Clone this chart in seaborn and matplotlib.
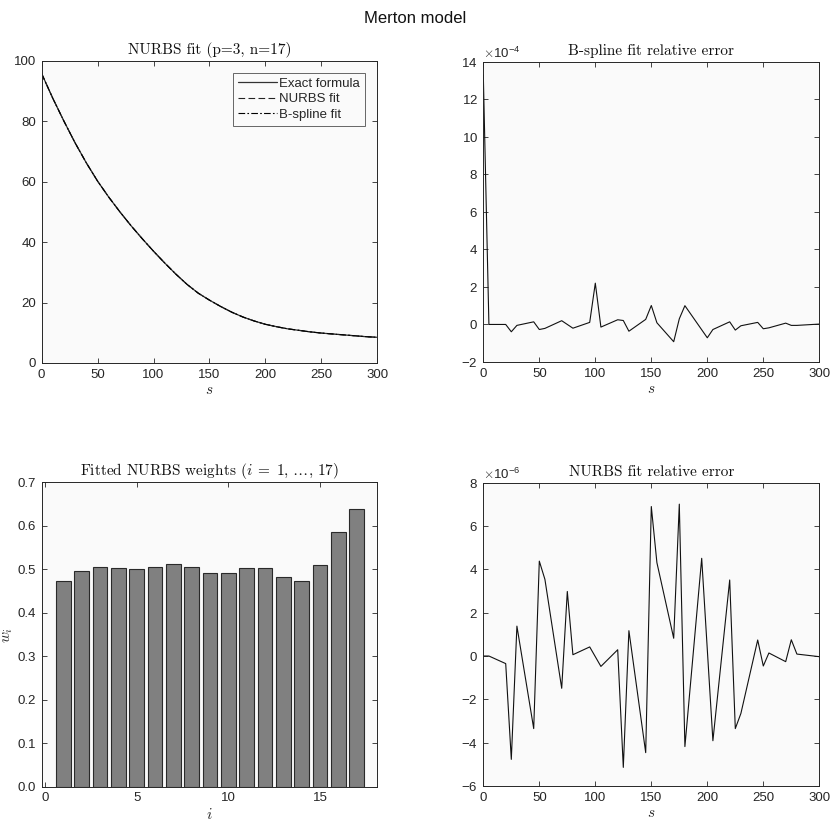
import numpy as np
import pandas as pd
import matplotlib
matplotlib.use("Agg")
import matplotlib.pyplot as plt
import seaborn as sns
from matplotlib.ticker import ScalarFormatter, MultipleLocator

# ---------------- data ----------------
s_price = list(range(0, 301, 10))
price_exact = [95.8, 87.6, 80.0, 72.8, 66.2, 60.2, 54.9, 50.0, 45.4, 41.1,
               37.0, 33.1, 29.4, 26.0, 23.1, 20.8, 18.7, 16.8, 15.2, 13.9,
               12.8, 12.0, 11.3, 10.8, 10.3, 9.9, 9.6, 9.3, 9.0, 8.7, 8.5]
price_nurbs = list(price_exact)
price_bspline = list(price_exact)

bs_s = [0, 5, 20, 25, 30, 45, 50, 55, 70, 80, 95, 100, 105, 120, 125, 130, 145,
        150, 155, 170, 175, 180, 200, 205, 220, 225, 230, 245, 250, 255, 270,
        275, 280, 300]
bs_err_e4 = [13.3, 0.0, 0.0, -0.39, -0.05, 0.14, -0.27, -0.21, 0.20, -0.20, 0.11,
             2.2, -0.14, 0.25, 0.21, -0.36, 0.27, 1.01, 0.09, -0.92, 0.30, 1.00,
             -0.71, -0.27, 0.14, -0.30, -0.07, 0.11, -0.23, -0.18, 0.07, -0.05,
             -0.05, 0.02]

nu_s = [0, 5, 20, 25, 30, 45, 50, 55, 70, 75, 80, 95, 105, 120, 125, 130, 145,
        150, 155, 170, 175, 180, 195, 205, 220, 225, 230, 245, 250, 255, 270,
        275, 280, 300]
nu_err_e6 = [0.0, 0.0, -0.35, -4.77, 1.38, -3.35, 4.38, 3.54, -1.49, 2.98, 0.06,
             0.42, -0.48, 0.29, -5.14, 1.17, -4.46, 6.90, 4.31, 0.82, 7.01, -4.18,
             4.51, -3.91, 3.51, -3.35, -2.65, 0.74, -0.46, 0.14, -0.26, 0.75, 0.09,
             -0.03]

weight_idx = list(range(1, 18))
weights = [0.473, 0.496, 0.505, 0.502, 0.500, 0.506, 0.513, 0.505, 0.492, 0.492,
           0.504, 0.503, 0.482, 0.472, 0.509, 0.585, 0.639]

# ---------------- style ----------------
sns.set_theme(style="ticks")
plt.rcParams.update({
    "font.family": ["Liberation Sans", "DejaVu Sans"],
    "mathtext.fontset": "cm",
    "axes.unicode_minus": False,
    "axes.facecolor": "#fafafa",
    "axes.edgecolor": "#262626",
    "axes.linewidth": 0.7,
    "xtick.direction": "in",
    "ytick.direction": "in",
    "xtick.top": True,
    "ytick.right": True,
    "xtick.major.size": 3.5,
    "ytick.major.size": 3.5,
    "xtick.major.width": 0.6,
    "ytick.major.width": 0.6,
    "xtick.labelsize": 9.5,
    "ytick.labelsize": 9.5,
    "xtick.color": "#262626",
    "ytick.color": "#262626",
    "xtick.major.pad": 4,
    "ytick.major.pad": 4,
})

TITLE_KW = dict(fontfamily="cmr10", fontsize=11, pad=5, color="#111111")

fig = plt.figure(figsize=(8.30, 8.24), dpi=100)
ax1 = fig.add_axes([0.0502, 0.5595, 0.4044, 0.3665])
ax2 = fig.add_axes([0.5823, 0.5607, 0.4048, 0.3644])
ax3 = fig.add_axes([0.0502, 0.0453, 0.4044, 0.3694])
ax4 = fig.add_axes([0.5823, 0.0461, 0.4048, 0.3681])

# --- top-left: price curves ---
df_price = pd.DataFrame({"s": s_price, "exact": price_exact,
                         "nurbs": price_nurbs, "bspline": price_bspline})
sns.lineplot(data=df_price, x="s", y="exact", ax=ax1, color="#333333",
             linewidth=0.9, label="Exact formula", estimator=None)
sns.lineplot(data=df_price, x="s", y="nurbs", ax=ax1, color="#222222",
             linewidth=0.8, linestyle=(0, (6, 3)), label="NURBS fit", estimator=None)
sns.lineplot(data=df_price, x="s", y="bspline", ax=ax1, color="#000000",
             linewidth=0.8, linestyle=(0, (6, 2, 1.5, 2)), label="B-spline fit",
             estimator=None)
ax1.set_xlim(0, 300)
ax1.set_ylim(0, 100)
ax1.xaxis.set_major_locator(MultipleLocator(50))
ax1.yaxis.set_major_locator(MultipleLocator(20))
ax1.set_xlabel("$s$", fontsize=11, labelpad=2)
ax1.set_ylabel("")
ax1.set_title("NURBS fit (p=3, n=17)", **TITLE_KW)
leg = ax1.legend(loc="upper right", bbox_to_anchor=(0.962, 0.96), fontsize=9.5,
                 frameon=True, fancybox=False, framealpha=1, edgecolor="#666666",
                 handlelength=3.0, handletextpad=0.15, labelspacing=0.25,
                 borderpad=0.35, borderaxespad=0)
leg.get_frame().set_linewidth(0.7)

# --- top-right: B-spline relative error ---
df_bs = pd.DataFrame({"s": bs_s, "err": np.array(bs_err_e4) * 1e-4})
sns.lineplot(data=df_bs, x="s", y="err", ax=ax2, color="#111111",
             linewidth=0.8, estimator=None, sort=False)
ax2.set_xlim(0, 300)
ax2.set_ylim(-2e-4, 14e-4)
ax2.xaxis.set_major_locator(MultipleLocator(50))
ax2.yaxis.set_major_locator(MultipleLocator(2e-4))
f2 = ScalarFormatter(useMathText=True)
f2.set_powerlimits((-4, -4))
ax2.yaxis.set_major_formatter(f2)
ax2.yaxis.get_offset_text().set_fontsize(9.5)
ax2.set_xlabel("$s$", fontsize=11, labelpad=2)
ax2.set_ylabel("")
ax2.set_title("B-spline fit relative error", **TITLE_KW)

# --- bottom-left: weights bar chart ---
df_w = pd.DataFrame({"i": weight_idx, "w": weights})
sns.barplot(data=df_w, x="i", y="w", ax=ax3, native_scale=True, width=0.8,
            color="#808080", saturation=1, edgecolor="#2a2a2a", linewidth=0.8)
ax3.set_xlim(-0.18, 18.13)
ax3.set_ylim(0, 0.7)
ax3.xaxis.set_major_locator(MultipleLocator(5))
ax3.yaxis.set_major_locator(MultipleLocator(0.1))
ax3.set_xlabel("$i$", fontsize=11, labelpad=2)
ax3.set_ylabel("$w_i$", fontsize=11)
ax3.yaxis.set_label_coords(-0.078, 0.5)
ax3.set_title(r"Fitted NURBS weights ($i\;=\;1,\, \ldots,\, 17$)", **TITLE_KW)

# --- bottom-right: NURBS relative error ---
df_nu = pd.DataFrame({"s": nu_s, "err": np.array(nu_err_e6) * 1e-6})
sns.lineplot(data=df_nu, x="s", y="err", ax=ax4, color="#111111",
             linewidth=0.8, estimator=None, sort=False)
ax4.set_xlim(0, 300)
ax4.set_ylim(-6e-6, 8e-6)
ax4.xaxis.set_major_locator(MultipleLocator(50))
ax4.yaxis.set_major_locator(MultipleLocator(2e-6))
f4 = ScalarFormatter(useMathText=True)
f4.set_powerlimits((-6, -6))
ax4.yaxis.set_major_formatter(f4)
ax4.yaxis.get_offset_text().set_fontsize(9.5)
ax4.set_xlabel("$s$", fontsize=11, labelpad=2)
ax4.set_ylabel("")
ax4.set_title("NURBS fit relative error", **TITLE_KW)

fig.suptitle("Merton model", y=0.987, fontsize=12, color="#111111")

fig.savefig("out.png", dpi=100, facecolor="white")
